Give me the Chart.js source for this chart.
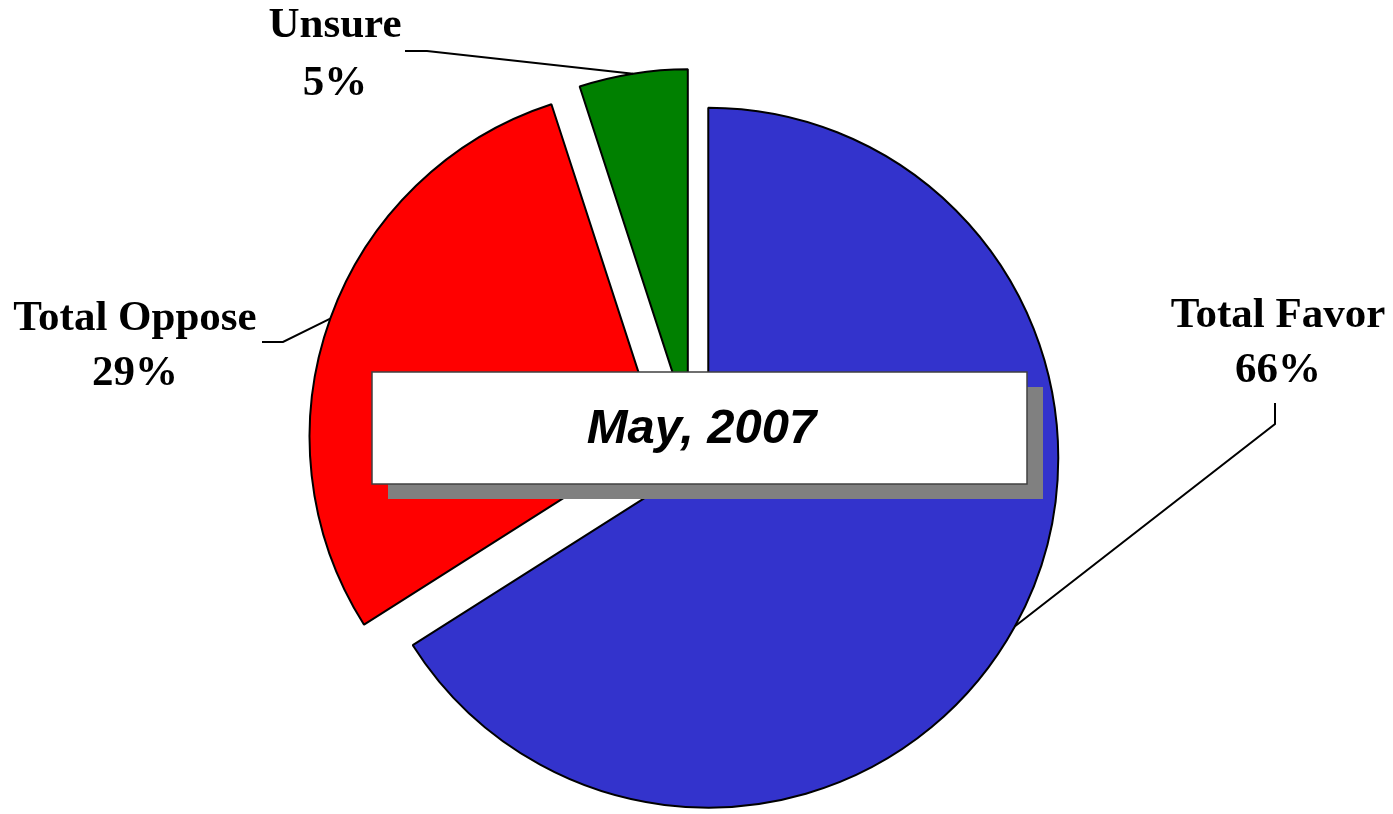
<!DOCTYPE html>
<html>
<head>
<meta charset="utf-8">
<script src="https://cdn.jsdelivr.net/npm/chart.js@4"></script>
<style>
html, body { margin: 0; padding: 0; background: #fff; }
#wrap { width: 1393px; height: 814px; position: relative; }
</style>
</head>
<body>
<div id="wrap"><canvas id="myChart"></canvas></div>
<script>
let categories = ["Total Favor", "Total Oppose", "Unsure"];
let percentages = [66, 29, 5];
let periodLabel = "May, 2007";

let sliceColors = ["#3333CC", "#FF0000", "#008000"];

// how far each slice is pulled out (px)
let explode = [18, 35, 30];

// label text centre + baselines, leader line elbow and end
let labelStyle = [
    {x: 1278, y1: 327, y2: 382, elbow: [1275, 424], end: [1275, 403]},
    {x: 135, y1: 330, y2: 385, elbow: [283, 342], end: [262, 342]},
    {x: 335, y1: 37, y2: 95, elbow: [427, 51], end: [405, 51]}
];

// the date box
let boxStyle = {left: 372, top: 372, width: 655, height: 112, shadow: 16};

const explodedSlices = {
    id: "explodedSlices",
    beforeDatasetDraw(chart, args) {
        const ctx = chart.ctx;
        args.meta.data.forEach((arc, i) => {
            const p = arc.getProps(["startAngle", "endAngle"], true);
            const mid = (p.startAngle + p.endAngle) / 2;
            ctx.save();
            ctx.translate(Math.cos(mid) * explode[i], Math.sin(mid) * explode[i]);
            arc.draw(ctx);
            ctx.restore();
        });
        return false;
    }
};

const sliceLabels = {
    id: "sliceLabels",
    afterDatasetsDraw(chart) {
        const ctx = chart.ctx;
        const meta = chart.getDatasetMeta(0);
        ctx.save();
        meta.data.forEach((arc, i) => {
            const p = arc.getProps(["x", "y", "startAngle", "endAngle", "outerRadius"], true);
            const mid = (p.startAngle + p.endAngle) / 2;
            const r = p.outerRadius + explode[i];
            const sx = p.x + Math.cos(mid) * r;
            const sy = p.y + Math.sin(mid) * r;
            const s = labelStyle[i];

            ctx.strokeStyle = "#000";
            ctx.lineWidth = 2;
            ctx.beginPath();
            ctx.moveTo(sx, sy);
            ctx.lineTo(s.elbow[0], s.elbow[1]);
            ctx.lineTo(s.end[0], s.end[1]);
            ctx.stroke();

            ctx.fillStyle = "#000";
            ctx.font = "bold 43px 'Liberation Serif', 'Times New Roman', serif";
            ctx.textAlign = "center";
            ctx.textBaseline = "alphabetic";
            ctx.fillText(categories[i], s.x, s.y1);
            ctx.fillText(percentages[i] + "%", s.x, s.y2);
        });
        ctx.restore();
    }
};

const dateBox = {
    id: "dateBox",
    afterDraw(chart) {
        const ctx = chart.ctx;
        const b = boxStyle;
        ctx.save();
        ctx.fillStyle = "#808080";
        ctx.fillRect(b.left + b.shadow, b.top + b.shadow - 1, b.width, b.height);
        ctx.fillStyle = "#fff";
        ctx.fillRect(b.left, b.top, b.width, b.height);
        ctx.strokeStyle = "#404040";
        ctx.lineWidth = 1.5;
        ctx.strokeRect(b.left, b.top, b.width, b.height);
        ctx.fillStyle = "#000";
        ctx.font = "italic bold 49px 'Liberation Sans', Arial, sans-serif";
        ctx.textAlign = "center";
        ctx.textBaseline = "middle";
        ctx.fillText(periodLabel, b.left + b.width / 2 + 2, b.top + b.height / 2 + 1);
        ctx.restore();
    }
};

const config = {
    type: "pie",
    data: {
        labels: categories,
        datasets: [{
            data: percentages,
            backgroundColor: sliceColors,
            borderColor: "#000",
            borderWidth: 2,
            offset: 0,
            hoverOffset: 0
        }]
    },
    options: {
        responsive: true,
        maintainAspectRatio: false,
        animation: false,
        events: [],
        radius: 350,
        layout: {
            padding: {left: 0, right: 8, top: 84, bottom: 0}
        },
        plugins: {
            legend: {display: false},
            tooltip: {enabled: false}
        }
    },
    plugins: [explodedSlices, sliceLabels, dateBox]
};

const myChart = new Chart(document.getElementById("myChart"), config);
</script>
</body>
</html>
